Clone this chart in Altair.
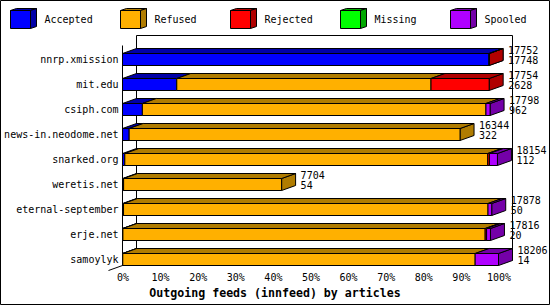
import json
import altair as alt
import pandas as pd

# ---------------- data ----------------
feeds = ["nnrp.xmission", "mit.edu", "csiph.com", "news-in.neodome.net",
         "snarked.org", "weretis.net", "eternal-september", "erje.net", "samoylyk"]
series = ["Accepted", "Refused", "Rejected", "Missing", "Spooled"]
accepted = [17748, 2628, 962, 322, 112, 54, 50, 20, 14]
refused = [0, 12310, 16636, 16022, 17574, 7650, 17648, 17540, 17061]
rejected = [4, 2816, 0, 0, 80, 0, 0, 70, 0]
missing = [0, 0, 0, 0, 0, 0, 0, 0, 0]
spooled = [0, 0, 200, 0, 388, 0, 180, 186, 1131]
offered = [17752, 17754, 17798, 16344, 18154, 7704, 17878, 17816, 18206]
pct_labels = ["0%", "10%", "20%", "30%", "40%", "50%", "60%", "70%", "80%", "90%", "100%"]
axis_title = "Outgoing feeds (innfeed) by articles"

# ---------------- styles / layout ----------------
face = {"Accepted": "#0000ff", "Refused": "#ffb000", "Rejected": "#ff0000",
        "Missing": "#00ff00", "Spooled": "#b000ff"}
shade = {"Accepted": "#0000a8", "Refused": "#b07c00", "Rejected": "#b00000",
         "Missing": "#00a800", "Spooled": "#7400a8"}
MONO = "DejaVu Sans Mono"
W, H = 550, 305
X0, X1 = 122.5, 498.5          # plot area (0% .. 100%) in page pixels
Y0, Y1 = 35.5, 265.5
PW, PH = X1 - X0, Y1 - Y0
ROW_PX = 25
FIRST_ROW_PX = 59.5
HALF_PX = 6
DEPTH_X_PX = 14
DEPTH_Y_PX = 5
FRONT_GAP_PX = 10
LEG_STEP, LEG_CENTER, LEG_Y = 110, 55, 20

counts = dict(zip(series, [accepted, refused, rejected, missing, spooled]))
top_value = max(offered)
ppc = PW / top_value                      # pixels per count
dxc = DEPTH_X_PX / ppc
y_lo = -(FIRST_ROW_PX - Y0) / ROW_PX
y_hi = y_lo + PH / ROW_PX
hh = HALF_PX / ROW_PX
dyr = DEPTH_Y_PX / ROW_PX


def xdata(px):
    return (px - X0) / ppc


def ydata(py):
    return y_lo + (py - Y0) / ROW_PX


xs = alt.Scale(domain=[0, top_value], range=[0, PW], nice=False, zero=False)
ys = alt.Scale(domain=[y_lo, y_hi], range=[0, PH], nice=False, zero=False)

ylabel_expr = json.dumps(feeds) + "[round(datum.value)]"
xlabel_expr = json.dumps(pct_labels) + f"[round(datum.value * 10 / {top_value})]"

X_AXIS = alt.Axis(
    values=[top_value * k / 10 for k in range(11)], labelExpr=xlabel_expr,
    orient="bottom", domain=False, ticks=False, grid=False, labelPadding=7,
    labelFont=MONO, labelFontSize=10, labelColor="black",
    labelFlush=False, labelOverlap=False, labelBound=False,
    title=axis_title, titleFont=MONO, titleFontSize=11.6, titleFontWeight="bold",
    titleColor="black", titleX=274.5 - X0, titleY=30.5, titleAlign="center",
    titleBaseline="alphabetic")
Y_AXIS = alt.Axis(
    values=list(range(len(feeds))), labelExpr=ylabel_expr, orient="left",
    domain=False, ticks=False, grid=False, labelPadding=4.5,
    labelFont=MONO, labelFontSize=10, labelColor="black",
    labelOverlap=False, labelBound=False, labelFlush=False, title=None)

front_rows, top_rows, side_rows = [], [], []
for i, feed in enumerate(feeds):
    start = 0
    for s in series:
        v = counts[s][i]
        if v <= 0:
            continue
        end = start + v
        sid = f"{i}-{s}"
        front_rows.append(dict(x=start, x2=end, y=i - hh, y2=i + hh, fill=face[s]))
        top_rows += [dict(seg=sid, y=i - hh, x=start, x2=end, fill=shade[s]),
                     dict(seg=sid, y=i - hh - dyr, x=start + dxc, x2=end + dxc, fill=shade[s])]
        side_rows += [dict(seg=sid, x=end, y=i - hh, y2=i + hh, fill=shade[s]),
                      dict(seg=sid, x=end + dxc, y=i - hh - dyr, y2=i + hh - dyr, fill=shade[s])]
        start = end

front_df = pd.DataFrame(front_rows)
top_df = pd.DataFrame(top_rows)
side_df = pd.DataFrame(side_rows)
labels_df = pd.DataFrame(dict(row=list(range(len(feeds))), offered=offered, accepted=accepted))

bl, br, bt, bb = xdata(0.5), xdata(W - 0.5), ydata(0.5), ydata(H - 0.5)
frame_df = pd.DataFrame([
    # back wall
    dict(x=dxc, x2=top_value + dxc, y=y_lo, y2=y_lo),
    dict(x=dxc, x2=dxc, y=y_lo, y2=y_hi - dyr),
    dict(x=top_value + dxc, x2=top_value + dxc, y=y_lo, y2=y_hi - dyr),
    # front axis line and floor stub
    dict(x=0, x2=0, y=y_lo + FRONT_GAP_PX / ROW_PX, y2=y_hi),
    dict(x=0, x2=-dxc, y=y_hi, y2=y_hi + dyr),
    # picture border
    dict(x=bl, x2=br, y=bt, y2=bt),
    dict(x=bl, x2=br, y=bb, y2=bb),
    dict(x=bl, x2=bl, y=bt, y2=bb),
    dict(x=br, x2=br, y=bt, y2=bb),
])

frame = alt.Chart(frame_df).mark_rule(color="black", strokeWidth=1).encode(
    x=alt.X("x:Q", scale=xs, axis=X_AXIS), x2="x2:Q",
    y=alt.Y("y:Q", scale=ys, axis=Y_AXIS), y2="y2:Q")

side = alt.Chart(side_df).mark_area(orient="vertical", stroke="black", strokeWidth=1,
                                    opacity=1, interpolate="linear").encode(
    x=alt.X("x:Q", scale=xs, axis=X_AXIS, stack=None),
    y=alt.Y("y:Q", scale=ys, axis=Y_AXIS, stack=None), y2="y2:Q",
    detail="seg:N", fill=alt.Fill("fill:N", scale=None))

top = alt.Chart(top_df).mark_area(orient="horizontal", stroke="black", strokeWidth=1,
                                  opacity=1, interpolate="linear").encode(
    y=alt.Y("y:Q", scale=ys, axis=Y_AXIS, stack=None),
    x=alt.X("x:Q", scale=xs, axis=X_AXIS, stack=None), x2="x2:Q",
    detail="seg:N", fill=alt.Fill("fill:N", scale=None))

front = alt.Chart(front_df).mark_rect(stroke="black", strokeWidth=1, opacity=1).encode(
    x=alt.X("x:Q", scale=xs, axis=X_AXIS), x2="x2:Q",
    y=alt.Y("y:Q", scale=ys, axis=Y_AXIS), y2="y2:Q",
    fill=alt.Fill("fill:N", scale=None))

txt_total = alt.Chart(labels_df).mark_text(
    align="left", baseline="middle", dx=DEPTH_X_PX + 5, dy=-8.7,
    font=MONO, fontSize=10, color="black").encode(
    x=alt.X("offered:Q", scale=xs, axis=X_AXIS),
    y=alt.Y("row:Q", scale=ys, axis=Y_AXIS),
    text=alt.Text("offered:Q", format="d"))

txt_acc = alt.Chart(labels_df).mark_text(
    align="left", baseline="middle", dx=DEPTH_X_PX + 5, dy=1.8,
    font=MONO, fontSize=10, color="black").encode(
    x=alt.X("offered:Q", scale=xs, axis=X_AXIS),
    y=alt.Y("row:Q", scale=ys, axis=Y_AXIS),
    text=alt.Text("accepted:Q", format="d"))

# ---------------- legend (3-D boxes) ----------------
legend_df = pd.DataFrame(dict(name=series,
                              face=[face[s] for s in series],
                              shade=[shade[s] for s in series]))
FRONT_PATH = "M-44.5,-9.5 L-24.5,-9.5 L-24.5,8.5 L-44.5,8.5 Z"
TOP_PATH = "M-44.5,-9.5 L-24.5,-9.5 L-18.5,-11.5 L-38.5,-11.5 Z"
SIDE_PATH = "M-24.5,-9.5 L-18.5,-11.5 L-18.5,6.5 L-24.5,8.5 Z"

leg_base = alt.Chart(legend_df).transform_window(
    idx="row_number()").transform_calculate(
    lx=f"(datum.idx - 1) * {LEG_STEP} + {LEG_CENTER} - {X0}")
lx = alt.X("lx:Q", scale=None, axis=None)
ly = alt.value(LEG_Y - Y0)


def box(path, col):
    return leg_base.mark_point(
        shape=path, size=4, filled=True, stroke="black", strokeWidth=1, opacity=1).encode(
        x=lx, y=ly, fill=alt.Fill(f"{col}:N", scale=None))


leg_text = leg_base.mark_text(
    align="left", baseline="middle", dx=-10.5, font=MONO, fontSize=10, color="black").encode(
    x=lx, y=ly, text="name:N")

chart = alt.layer(
    frame, side, top, front, txt_total, txt_acc,
    box(TOP_PATH, "shade"), box(SIDE_PATH, "shade"), box(FRONT_PATH, "face"), leg_text,
).properties(
    width=PW, height=PH, autosize=alt.AutoSizeParams(type="none"),
    padding={"left": X0, "top": Y0, "right": W - X1, "bottom": H - Y1},
    background="white").configure_view(stroke=None)

chart.save("out.html", embed_options={"renderer": "svg", "actions": False})
